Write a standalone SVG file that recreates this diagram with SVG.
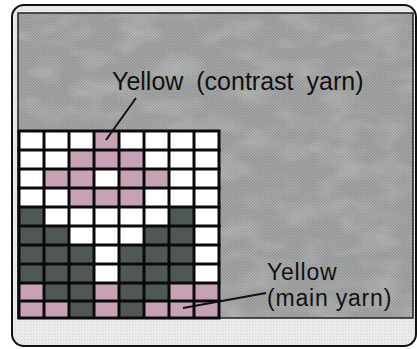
<svg xmlns="http://www.w3.org/2000/svg" width="417" height="349" viewBox="0 0 417 349">
  <defs>
    <pattern id="halftone" width="3" height="3" patternUnits="userSpaceOnUse">
      <rect width="3" height="3" fill="#a9abab"/>
      <rect width="1.5" height="1.5" fill="#8c8e8e"/>
      <rect x="1.5" y="1.5" width="1.5" height="1.5" fill="#929393"/>
    </pattern>
    <pattern id="lighttone" width="3" height="3" patternUnits="userSpaceOnUse">
      <rect width="3" height="3" fill="#ececec"/>
      <rect width="1.5" height="1.5" fill="#dcdcdc"/>
    </pattern>
    <filter id="mottle" x="0" y="0" width="100%" height="100%">
      <feTurbulence type="fractalNoise" baseFrequency="0.025 0.05" numOctaves="3" seed="4"/>
      <feColorMatrix type="matrix" values="0 0 0 0 1  0 0 0 0 1  0 0 0 0 1  1.2 0 0 0 -0.5"/>
    </filter>
    <style>
      .lbl { font-family: "Liberation Sans", Arial, sans-serif; font-size: 25px; fill: #111; }
      .lbl2 { font-family: "Liberation Sans", Arial, sans-serif; font-size: 23px; letter-spacing: 0.8px; fill: #111; }
      .w { fill: #ffffff; }
      .p { fill: #c6a2b4; }
      .d { fill: #4f5855; }
      .grid line { stroke: #0a0a0a; stroke-width: 3; }
      .lead { stroke: #111; stroke-width: 2; fill: none; }
    </style>
  </defs>

  <rect x="0" y="0" width="417" height="349" fill="#ffffff"/>
  <!-- outer frame -->
  <rect x="12" y="5" width="404" height="341" rx="12" fill="url(#lighttone)" stroke="#111" stroke-width="2"/>
  <!-- grey panel -->
  <rect x="18" y="13" width="395" height="305" fill="url(#halftone)"/>
  <rect x="18" y="13" width="395" height="305" filter="url(#mottle)" opacity="0.35"/>
  <rect x="18" y="13" width="395" height="305" fill="none" stroke="#222" stroke-width="1.5"/>

  <g id="chart" class="grid">
    <!-- row 0 -->
    <rect class="w" x="19" y="131" width="25" height="19"/><rect class="w" x="44" y="131" width="25" height="19"/><rect class="w" x="69" y="131" width="25" height="19"/><rect class="p" x="94" y="131" width="25" height="19"/><rect class="w" x="119" y="131" width="25" height="19"/><rect class="w" x="144" y="131" width="25" height="19"/><rect class="w" x="169" y="131" width="25" height="19"/><rect class="w" x="194" y="131" width="25" height="19"/>
    <!-- row 1 -->
    <rect class="w" x="19" y="150" width="25" height="19"/><rect class="w" x="44" y="150" width="25" height="19"/><rect class="p" x="69" y="150" width="25" height="19"/><rect class="p" x="94" y="150" width="25" height="19"/><rect class="p" x="119" y="150" width="25" height="19"/><rect class="w" x="144" y="150" width="25" height="19"/><rect class="w" x="169" y="150" width="25" height="19"/><rect class="w" x="194" y="150" width="25" height="19"/>
    <!-- row 2 -->
    <rect class="w" x="19" y="169" width="25" height="19"/><rect class="p" x="44" y="169" width="25" height="19"/><rect class="p" x="69" y="169" width="25" height="19"/><rect class="w" x="94" y="169" width="25" height="19"/><rect class="p" x="119" y="169" width="25" height="19"/><rect class="p" x="144" y="169" width="25" height="19"/><rect class="w" x="169" y="169" width="25" height="19"/><rect class="w" x="194" y="169" width="25" height="19"/>
    <!-- row 3 -->
    <rect class="w" x="19" y="188" width="25" height="19"/><rect class="w" x="44" y="188" width="25" height="19"/><rect class="p" x="69" y="188" width="25" height="19"/><rect class="p" x="94" y="188" width="25" height="19"/><rect class="p" x="119" y="188" width="25" height="19"/><rect class="w" x="144" y="188" width="25" height="19"/><rect class="w" x="169" y="188" width="25" height="19"/><rect class="w" x="194" y="188" width="25" height="19"/>
    <!-- row 4 -->
    <rect class="d" x="19" y="207" width="25" height="19"/><rect class="w" x="44" y="207" width="25" height="19"/><rect class="w" x="69" y="207" width="25" height="19"/><rect class="w" x="94" y="207" width="25" height="19"/><rect class="w" x="119" y="207" width="25" height="19"/><rect class="w" x="144" y="207" width="25" height="19"/><rect class="d" x="169" y="207" width="25" height="19"/><rect class="w" x="194" y="207" width="25" height="19"/>
    <!-- row 5 -->
    <rect class="d" x="19" y="226" width="25" height="19"/><rect class="d" x="44" y="226" width="25" height="19"/><rect class="w" x="69" y="226" width="25" height="19"/><rect class="w" x="94" y="226" width="25" height="19"/><rect class="w" x="119" y="226" width="25" height="19"/><rect class="d" x="144" y="226" width="25" height="19"/><rect class="d" x="169" y="226" width="25" height="19"/><rect class="w" x="194" y="226" width="25" height="19"/>
    <!-- row 6 -->
    <rect class="d" x="19" y="245" width="25" height="19"/><rect class="d" x="44" y="245" width="25" height="19"/><rect class="d" x="69" y="245" width="25" height="19"/><rect class="w" x="94" y="245" width="25" height="19"/><rect class="d" x="119" y="245" width="25" height="19"/><rect class="d" x="144" y="245" width="25" height="19"/><rect class="d" x="169" y="245" width="25" height="19"/><rect class="w" x="194" y="245" width="25" height="19"/>
    <!-- row 7 -->
    <rect class="d" x="19" y="264" width="25" height="19"/><rect class="d" x="44" y="264" width="25" height="19"/><rect class="d" x="69" y="264" width="25" height="19"/><rect class="w" x="94" y="264" width="25" height="19"/><rect class="d" x="119" y="264" width="25" height="19"/><rect class="d" x="144" y="264" width="25" height="19"/><rect class="d" x="169" y="264" width="25" height="19"/><rect class="w" x="194" y="264" width="25" height="19"/>
    <!-- row 8 -->
    <rect class="p" x="19" y="283" width="25" height="18"/><rect class="d" x="44" y="283" width="25" height="18"/><rect class="d" x="69" y="283" width="25" height="18"/><rect class="p" x="94" y="283" width="25" height="18"/><rect class="d" x="119" y="283" width="25" height="18"/><rect class="d" x="144" y="283" width="25" height="18"/><rect class="p" x="169" y="283" width="25" height="18"/><rect class="p" x="194" y="283" width="25" height="18"/>
    <!-- row 9 -->
    <rect class="p" x="19" y="301" width="25" height="17"/><rect class="p" x="44" y="301" width="25" height="17"/><rect class="d" x="69" y="301" width="25" height="17"/><rect class="p" x="94" y="301" width="25" height="17"/><rect class="d" x="119" y="301" width="25" height="17"/><rect class="p" x="144" y="301" width="25" height="17"/><rect class="p" x="169" y="301" width="25" height="17"/><rect class="p" x="194" y="301" width="25" height="17"/>
    <!-- grid lines -->
    <line x1="19" y1="131" x2="19" y2="318"/><line x1="44" y1="131" x2="44" y2="318"/><line x1="69" y1="131" x2="69" y2="318"/><line x1="94" y1="131" x2="94" y2="318"/><line x1="119" y1="131" x2="119" y2="318"/><line x1="144" y1="131" x2="144" y2="318"/><line x1="169" y1="131" x2="169" y2="318"/><line x1="194" y1="131" x2="194" y2="318"/><line x1="219" y1="131" x2="219" y2="318"/>
    <line x1="17.5" y1="131" x2="220.5" y2="131"/><line x1="17.5" y1="150" x2="220.5" y2="150"/><line x1="17.5" y1="169" x2="220.5" y2="169"/><line x1="17.5" y1="188" x2="220.5" y2="188"/><line x1="17.5" y1="207" x2="220.5" y2="207"/><line x1="17.5" y1="226" x2="220.5" y2="226"/><line x1="17.5" y1="245" x2="220.5" y2="245"/><line x1="17.5" y1="264" x2="220.5" y2="264"/><line x1="17.5" y1="283" x2="220.5" y2="283"/><line x1="17.5" y1="301" x2="220.5" y2="301"/><line x1="17.5" y1="318" x2="220.5" y2="318"/>
  </g>

  <g id="connectors">
    <line class="lead" x1="136" y1="98" x2="106" y2="140"/>
    <line class="lead" x1="183" y1="308" x2="266" y2="293"/>
  </g>

  <g id="label-contrast">
    <text class="lbl" x="112" y="90" word-spacing="6">Yellow (contrast yarn)</text>
  </g>
  <g id="label-main">
    <text class="lbl2" x="267" y="280">Yellow</text>
    <text class="lbl2" x="267" y="306">(main yarn)</text>
  </g>
</svg>
